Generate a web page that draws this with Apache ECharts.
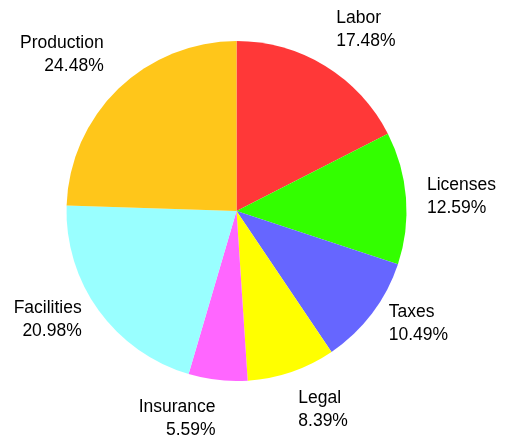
<!DOCTYPE html>
<html>
<head>
<meta charset="utf-8">
<script src="https://cdn.jsdelivr.net/npm/echarts@6/dist/echarts.min.js"></script>
<style>
  html, body { margin: 0; padding: 0; background: #fff; }
  #chart { width: 506px; height: 442px; }
</style>
</head>
<body>
<div id="chart"></div>
<script>
// cost breakdown, clockwise from 12 o'clock
const categories = ['Labor', 'Licenses', 'Taxes', 'Legal', 'Insurance', 'Facilities', 'Production']
const values = [25, 18, 15, 12, 8, 30, 35]
const colors = ['#FF3838', '#33FF00', '#6666FF', '#FFFF00', '#FF66FF', '#99FFFF', '#FFC61A']

const cx = 236.5
const cy = 211
const radius = 170

// mid angle of each slice, from the top going clockwise
const total = values.reduce((a, b) => a + b, 0)
const midAngles = []
let acc = 0
values.forEach(v => {
  midAngles.push((acc + v / 2) / total * Math.PI * 2)
  acc += v
})

const chart = echarts.init(document.getElementById('chart'))

const option = {
  animation: false,
  color: colors,
  series: [
    {
      type: 'pie',
      center: [cx, cy],
      radius: radius,
      startAngle: 90,
      clockwise: true,
      avoidLabelOverlap: false,
      data: categories.map((name, i) => ({ name, value: values[i] })),
      label: {
        show: true,
        position: 'outside',
        formatter: '{b}\n{d}%',
        fontFamily: 'Liberation Sans, Arial, sans-serif',
        fontSize: 17.5,
        lineHeight: 23,
        color: '#000'
      },
      labelLine: { show: false },
      // labels sit just off the rim: top/bottom ones hang above/below, side ones are centred
      labelLayout: function (params) {
        const a = midAngles[params.dataIndex]
        const dx = Math.sin(a)
        const dy = -Math.cos(a)
        let va = 'middle'
        if (dy < -0.707) va = 'bottom'
        else if (dy > 0.707) va = 'top'
        return {
          x: cx + (radius + 21) * dx,
          y: cy + (radius + 16) * dy,
          align: dx >= 0 ? 'left' : 'right',
          verticalAlign: va
        }
      },
      itemStyle: { borderWidth: 0 },
      emphasis: { disabled: true }
    }
  ]
}

chart.setOption(option)
</script>
</body>
</html>
